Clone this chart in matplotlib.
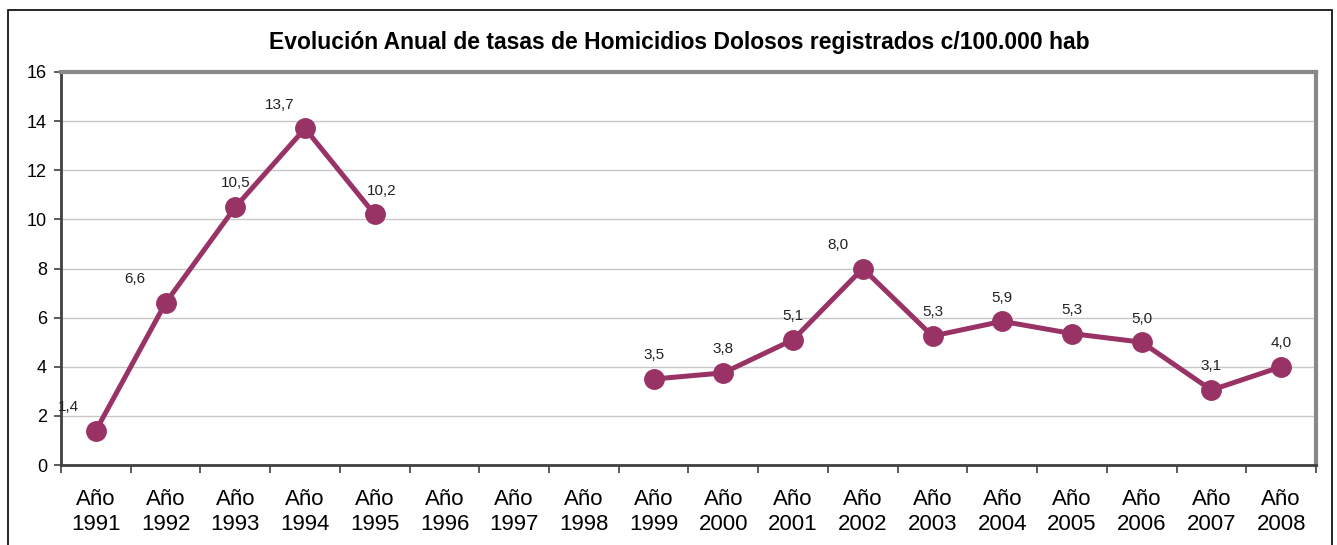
import matplotlib
matplotlib.use("Agg")
from matplotlib import pyplot as plt
from matplotlib.patches import Rectangle
from matplotlib import font_manager
import numpy as np

YEARS = [str(y) for y in range(1991, 2009)]
RATES = [1.4, 6.6, 10.5, 13.7, 10.2, None, None, None,
         3.5, 3.75, 5.1, 8.0, 5.25, 5.85, 5.35, 5.0, 3.05, 4.0]
LABELS = ["1,4", "6,6", "10,5", "13,7", "10,2", "", "", "",
          "3,5", "3,8", "5,1", "8,0", "5,3", "5,9", "5,3", "5,0", "3,1", "4,0"]
# horizontal nudges of the value labels (points)
LABEL_DX = [-20, -22, 0, -18, 5, 0, 0, 0, 0, 0, 0, -18, 0, 0, 0, 0, 0, 0]

COLOR = "#993366"

names = {f.name for f in font_manager.fontManager.ttflist}
narrow = "Liberation Sans Narrow" if "Liberation Sans Narrow" in names else "Liberation Sans"
plt.rcParams["font.family"] = ["Liberation Sans", "DejaVu Sans"]

fig = plt.figure(figsize=(13.37, 5.45), dpi=100)
fig.patches.append(Rectangle((8 / 1337, -0.1), 1324 / 1337, 1.1 - 10 / 545,
                             transform=fig.transFigure, fill=False,
                             edgecolor="black", linewidth=1.2))
ax = fig.add_axes([61 / 1337, 80 / 545, 1255 / 1337, 393 / 545])

x = np.arange(len(YEARS))
y = np.array([np.nan if v is None else v for v in RATES])
ax.plot(x, y, color=COLOR, lw=3.6, marker="o", ms=14, zorder=3)

for xi, yi, lab, dx in zip(x, y, LABELS, LABEL_DX):
    if lab:
        ax.annotate(lab, (xi, yi), xytext=(dx, 12), textcoords="offset points",
                    ha="center", va="bottom", fontsize=11, family=narrow,
                    color="#222222")

ax.set_xlim(-0.5, len(YEARS) - 0.5)
ax.set_ylim(0, 16)
ax.set_yticks(range(0, 17, 2))
ax.set_xticks(x)
ax.set_xticklabels(["Año\n" + yr for yr in YEARS], fontsize=16, linespacing=1.3)
ax.set_xticks(np.arange(-0.5, len(YEARS)), minor=True)
ax.tick_params(axis="x", which="major", length=0, pad=17)
ax.tick_params(axis="x", which="minor", length=6, width=1.2, color="#404040")
ax.tick_params(axis="y", length=5, width=1.2, color="#404040", labelsize=13, pad=5)
ax.grid(axis="y", color="#c8c8c8", lw=1)
ax.set_axisbelow(True)

for side in ["left", "bottom"]:
    ax.spines[side].set_color("#404040")
    ax.spines[side].set_linewidth(2)
for side in ["top", "right"]:
    ax.spines[side].set_color("#888888")
    ax.spines[side].set_linewidth(3)

fig.text(0.508, 1 - 42 / 545, "Evolución Anual de tasas de Homicidios Dolosos registrados c/100.000 hab",
         ha="center", va="center", fontsize=16.5, fontweight="bold")

fig.savefig("out.png", dpi=100)
